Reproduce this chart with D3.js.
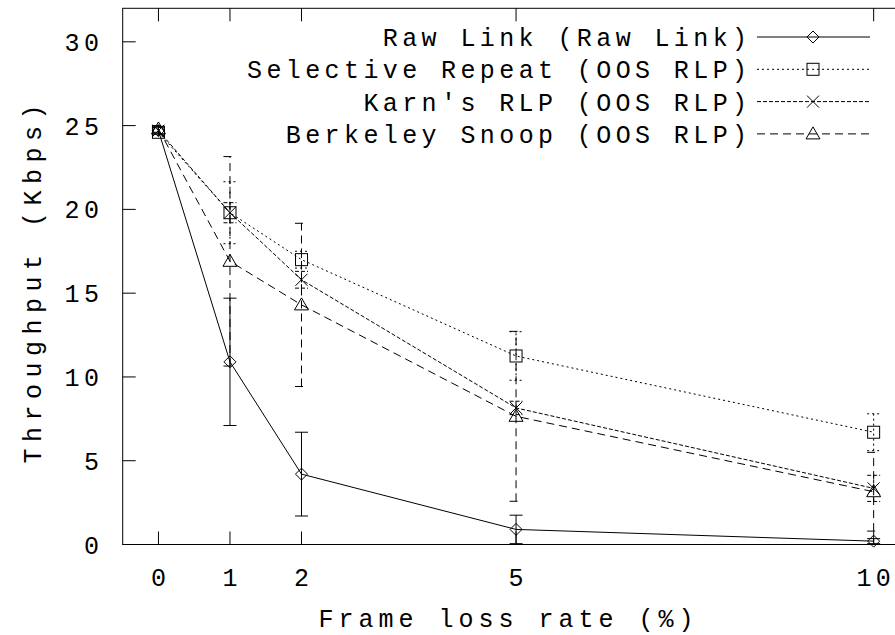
<!DOCTYPE html>
<html>
<head>
<meta charset="utf-8">
<script src="https://cdn.jsdelivr.net/npm/d3@7"></script>
<style>
  html, body { margin: 0; padding: 0; background: #fff; }
  svg { display: block; }
  text { font-family: "Liberation Mono", "DejaVu Sans Mono", monospace; font-size: 25px; fill: #000; }
</style>
</head>
<body>
<svg id="chart" width="895" height="635"></svg>
<script>
// ---- data ----
const xValues = [0, 1, 2, 5, 10];
const xTicks = [0, 1, 2, 5, 10];
const yTicks = [0, 5, 10, 15, 20, 25, 30];

const seriesNames = [
  "Raw Link (Raw Link)",
  "Selective Repeat (OOS RLP)",
  "Karn's RLP (OOS RLP)",
  "Berkeley Snoop (OOS RLP)"
];
const rawLink      = [24.7, 10.9, 4.2, 0.9, 0.2];
const rawLinkErr   = [0.2, 3.8, 2.5, 0.85, 0.15];
const selective    = [24.6, 19.8, 17.0, 11.25, 6.7];
const selectiveErr = [0.2, 1.85, 0.5, 1.45, 1.1];
const karn         = [24.7, 19.8, 15.8, 8.15, 3.35];
const karnErr      = [0.2, 0.6, 0.5, 0.4, 0.78];
const berkeley     = [24.8, 16.9, 14.3, 7.65, 3.15];
const berkeleyErr  = [0.2, 6.25, 4.87, 5.07, 2.35];

const xTitle = "Frame loss rate (%)";
const yTitle = "Throughput (Kbps)";

// ---- styles per series ----
const series = [
  { name: seriesNames[0], y: rawLink,   e: rawLinkErr,   dash: null,  marker: "diamond" },
  { name: seriesNames[1], y: selective, e: selectiveErr, dash: "2,3", marker: "square" },
  { name: seriesNames[2], y: karn,      e: karnErr,      dash: "4,2", marker: "cross" },
  { name: seriesNames[3], y: berkeley,  e: berkeleyErr,  dash: "8,5", marker: "triangle" }
];

const svg = d3.select("#chart");
const pLeft = 122.7, pRight = 909.4, pTop = 8.3, pBottom = 544.5;
const x = d3.scaleLinear().domain([-0.5, 10.5]).range([pLeft, pRight]);
const y = d3.scaleLinear().domain([0, 32]).range([pBottom, pTop]);
const FS = 25, CW = 0.6 * FS;
const ADV = 19.4;          // monospace advance
const LS = ADV - CW;

function monoText(g, str, xStart, yBase, adv) {
  return g.append("text").attr("x", xStart).attr("y", yBase)
    .style("letter-spacing", (adv - CW) + "px").text(str);
}

// frame
svg.append("rect").attr("x", pLeft).attr("y", pTop)
  .attr("width", pRight - pLeft).attr("height", pBottom - pTop)
  .attr("fill", "none").attr("stroke", "#000").attr("stroke-width", 1);

const tickLen = 13;
// y ticks
const gy = svg.append("g");
yTicks.forEach(t => {
  gy.append("line").attr("x1", pLeft).attr("x2", pLeft + tickLen)
    .attr("y1", y(t)).attr("y2", y(t)).attr("stroke", "#000");
  gy.append("line").attr("x1", pRight).attr("x2", pRight - tickLen)
    .attr("y1", y(t)).attr("y2", y(t)).attr("stroke", "#000");
  const s = String(t);
  monoText(gy, s, 99 - s.length * ADV + LS, y(t) + 9, ADV);
});
// x ticks
const gx = svg.append("g");
xTicks.forEach(t => {
  gx.append("line").attr("x1", x(t)).attr("x2", x(t))
    .attr("y1", pBottom).attr("y2", pBottom - tickLen).attr("stroke", "#000");
  gx.append("line").attr("x1", x(t)).attr("x2", x(t))
    .attr("y1", pTop).attr("y2", pTop + tickLen).attr("stroke", "#000");
  const s = String(t);
  monoText(gx, s, x(t) - (s.length * ADV - LS) / 2, 586, ADV);
});

// titles
const xAdv = 20.0;
monoText(svg, xTitle, 506 - (xTitle.length * xAdv - (xAdv - CW)) / 2, 627, xAdv);
const yAdv = 21.5;
svg.append("text")
  .attr("transform", `translate(41, ${284 + (yTitle.length * yAdv - (yAdv - CW)) / 2}) rotate(-90)`)
  .style("letter-spacing", (yAdv - CW) + "px").text(yTitle);

// markers
function drawMarker(g, type, cx, cy) {
  const r = 6;
  if (type === "diamond") {
    g.append("path").attr("d", `M${cx},${cy - r}L${cx + r},${cy}L${cx},${cy + r}L${cx - r},${cy}Z`)
      .attr("fill", "none").attr("stroke", "#000");
  } else if (type === "square") {
    g.append("rect").attr("x", cx - r).attr("y", cy - r).attr("width", 2 * r).attr("height", 2 * r)
      .attr("fill", "none").attr("stroke", "#000");
  } else if (type === "cross") {
    g.append("path").attr("d", `M${cx - r},${cy - r}L${cx + r},${cy + r}M${cx - r},${cy + r}L${cx + r},${cy - r}`)
      .attr("fill", "none").attr("stroke", "#000");
  } else if (type === "triangle") {
    g.append("path").attr("d", `M${cx},${cy - r - 1}L${cx + r + 1},${cy + r - 1}L${cx - r - 1},${cy + r - 1}Z`)
      .attr("fill", "none").attr("stroke", "#000");
  }
}

const line = d3.line().x((d, i) => x(xValues[i])).y(d => y(d));
const capW = 6.5;

series.forEach(s => {
  const g = svg.append("g");
  // error bars
  s.y.forEach((v, i) => {
    const cx = x(xValues[i]);
    const lo = y(Math.max(0, v - s.e[i])), hi = y(v + s.e[i]);
    const p = `M${cx},${lo}L${cx},${hi}M${cx - capW},${hi}L${cx + capW},${hi}M${cx - capW},${lo}L${cx + capW},${lo}`;
    g.append("path").attr("d", p).attr("fill", "none").attr("stroke", "#000")
      .attr("stroke-dasharray", s.dash);
  });
  g.append("path").datum(s.y).attr("d", line).attr("fill", "none")
    .attr("stroke", "#000").attr("stroke-dasharray", s.dash);
  s.y.forEach((v, i) => drawMarker(g, s.marker, x(xValues[i]), y(v)));
});

// legend
const lg = svg.append("g");
series.forEach((s, i) => {
  const cy = 37 + i * 32.3;
  monoText(lg, s.name, 747 - s.name.length * ADV + LS, cy + 9, ADV);
  lg.append("line").attr("x1", 757).attr("x2", 870).attr("y1", cy).attr("y2", cy)
    .attr("stroke", "#000").attr("stroke-dasharray", s.dash);
  drawMarker(lg, s.marker, 813, cy);
});
</script>
</body>
</html>
